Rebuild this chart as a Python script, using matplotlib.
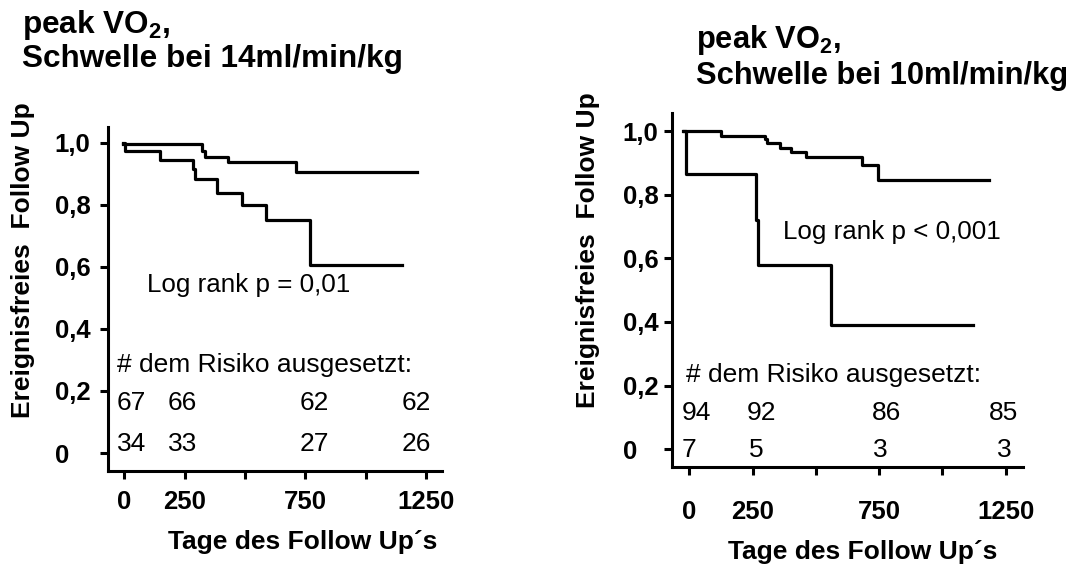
import matplotlib
matplotlib.use("Agg")
import matplotlib.pyplot as plt

plt.rcParams['font.family'] = ['Liberation Sans', 'DejaVu Sans']
plt.rcParams['mathtext.fontset'] = 'custom'
plt.rcParams['mathtext.rm'] = 'Liberation Sans:bold'
plt.rcParams['mathtext.it'] = 'Liberation Sans:bold'
plt.rcParams['mathtext.bf'] = 'Liberation Sans:bold'
plt.rcParams['mathtext.default'] = 'rm'

# data (days, event-free fraction)
l_hi_t = [-4, 323, 334, 428, 710, 1214]
l_hi_s = [0.995, 0.973, 0.955, 0.938, 0.905, 0.905]
l_lo_t = [-4, 4, 149, 286, 293, 385, 487, 586, 770, 1150]
l_lo_s = [1.0, 0.973, 0.944, 0.914, 0.882, 0.839, 0.798, 0.75, 0.605, 0.605]

r_hi_t = [-24, 125, 300, 309, 358, 401, 463, 683, 744, 1184]
r_hi_s = [1.0, 0.984, 0.974, 0.962, 0.946, 0.933, 0.918, 0.894, 0.847, 0.847]
r_lo_t = [-20, -14, 262, 272, 559, 1119]
r_lo_s = [1.0, 0.866, 0.72, 0.578, 0.39, 0.39]

yticks = [0, 0.2, 0.4, 0.6, 0.8, 1.0]
ytick_labels = ['0', '0,2', '0,4', '0,6', '0,8', '1,0']
xticks = [0, 250, 500, 750, 1000, 1250]
xtick_labels = ['0', '250', '', '750', '', '1250']

l_risk_hi = ['67', '66', '62', '62']
l_risk_lo = ['34', '33', '27', '26']
l_risk_x = [-30, 181, 728, 1150]
r_risk_hi = ['94', '92', '86', '85']
r_risk_lo = ['7', '5', '3', '3']
r_risk_x_hi = [-30, 227, 720, 1184]
r_risk_x_lo = [-30, 236, 725, 1215]

W, H = 1082, 567
fig = plt.figure(figsize=(W / 100, H / 100), dpi=100)


def px(x0, y0, x1, y1):
    return [x0 / W, 1 - y1 / H, (x1 - x0) / W, (y1 - y0) / H]


def setup(ax, xlim, ylim, xpad, ypad):
    ax.set_xlim(xlim)
    ax.set_ylim(ylim)
    for s in ['top', 'right']:
        ax.spines[s].set_visible(False)
    for s in ['left', 'bottom']:
        ax.spines[s].set_linewidth(2.2)
    ax.set_yticks(yticks)
    ax.set_yticklabels(ytick_labels, fontsize=18.5, fontweight='bold', ha='left')
    ax.set_xticks(xticks)
    ax.set_xticklabels(xtick_labels, fontsize=18.5, fontweight='bold')
    ax.tick_params(axis='both', length=5.5, width=2.2)
    ax.tick_params(axis='y', pad=ypad)
    ax.tick_params(axis='x', pad=xpad)


# left panel
ax1 = fig.add_axes(px(108, 127, 442, 471))
setup(ax1, (-67.5, 1316), (-0.058, 1.0506), 8.5, 33)
ax1.step(l_hi_t, l_hi_s, where='post', color='black', lw=2.3)
ax1.step(l_lo_t, l_lo_s, where='post', color='black', lw=2.3)
ax1.text(93, 0.541, 'Log rank p = 0,01', fontsize=18.7, va='center', ha='left')
ax1.text(-31, 0.284, '# dem Risiko ausgesetzt:', fontsize=19, va='center', ha='left')
for x, a, b in zip(l_risk_x, l_risk_hi, l_risk_lo):
    ax1.text(x, 0.162, a, fontsize=19, va='center', ha='left')
    ax1.text(x, 0.029, b, fontsize=19, va='center', ha='left')

# right panel
ax2 = fig.add_axes(px(672, 113, 1023, 467))
setup(ax2, (-68, 1318), (-0.056, 1.057), 18.5, 30)
ax2.step(r_hi_t, r_hi_s, where='post', color='black', lw=2.3)
ax2.step(r_lo_t, r_lo_s, where='post', color='black', lw=2.3)
ax2.text(371, 0.684, 'Log rank p < 0,001', fontsize=18.7, va='center', ha='left')
ax2.text(-13, 0.233, '# dem Risiko ausgesetzt:', fontsize=19, va='center', ha='left')
for x, a in zip(r_risk_x_hi, r_risk_hi):
    ax2.text(x, 0.113, a, fontsize=19, va='center', ha='left')
for x, b in zip(r_risk_x_lo, r_risk_lo):
    ax2.text(x, -0.002, b, fontsize=19, va='center', ha='left')

# titles and axis labels
fig.text(22 / W, 1 - 33 / H, 'peak VO$_2$,', fontsize=22.7, fontweight='bold', va='baseline')
fig.text(22 / W, 1 - 66.5 / H, 'Schwelle bei 14ml/min/kg', fontsize=22.7, fontweight='bold', va='baseline')
fig.text(696 / W, 1 - 48 / H, 'peak VO$_2$,', fontsize=22.2, fontweight='bold', va='baseline')
fig.text(696 / W, 1 - 84 / H, 'Schwelle bei 10ml/min/kg', fontsize=22.2, fontweight='bold', va='baseline')

fig.text(23 / W, 1 - 260.5 / H, 'Ereignisfreies  Follow Up', fontsize=19, fontweight='bold',
         rotation=90, ha='center', va='center')
fig.text(588 / W, 1 - 250 / H, 'Ereignisfreies  Follow Up', fontsize=19, fontweight='bold',
         rotation=90, ha='center', va='center')
fig.text(303 / W, 1 - 541.7 / H, 'Tage des Follow Up´s', fontsize=19, fontweight='bold',
         ha='center', va='center')
fig.text(863 / W, 1 - 551.7 / H, 'Tage des Follow Up´s', fontsize=19, fontweight='bold',
         ha='center', va='center')

fig.savefig('out.png', dpi=100)
